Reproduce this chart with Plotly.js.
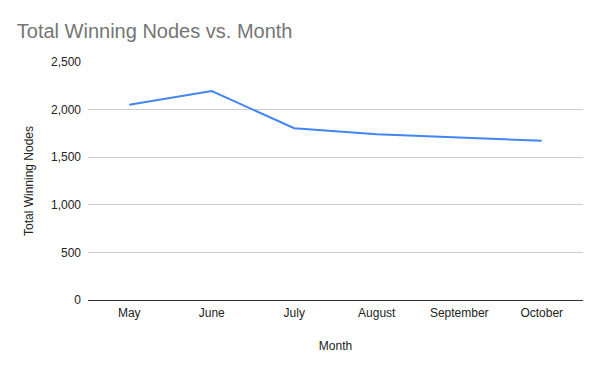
<!DOCTYPE html>
<html>
<head>
<meta charset="utf-8">
<script src="https://cdn.plot.ly/plotly-3.0.1.min.js"></script>
<style>html,body{margin:0;padding:0;background:#fff;}#chart{width:600px;height:371px;}</style>
</head>
<body>
<div id="chart"></div>
<script>
const months = ["May", "June", "July", "August", "September", "October"];
const totalWinningNodes = [2052, 2194, 1805, 1740, 1706, 1672];
const yTicks = [0, 500, 1000, 1500, 2000, 2500];
const yTickLabels = ["0", "500", "1,000", "1,500", "2,000", "2,500"];

const FONT = "'Liberation Sans', Arial, sans-serif";

const trace = {
  x: months,
  y: totalWinningNodes,
  type: "scatter",
  mode: "lines",
  line: {color: "#4285F4", width: 2},
  hoverinfo: "none"
};

const layout = {
  width: 600,
  height: 371,
  margin: {l: 88, r: 17, t: 62, b: 71},
  paper_bgcolor: "#fff",
  plot_bgcolor: "#fff",
  font: {family: FONT, size: 12, color: "#222"},
  title: {
    text: "Total Winning Nodes vs. Month",
    font: {family: FONT, size: 20, color: "#757575"},
    x: 0.028, xanchor: "left", xref: "container",
    y: 0.917, yanchor: "middle", yref: "container"
  },
  showlegend: false,
  xaxis: {
    type: "category",
    range: [-0.5, 5.5],
    showgrid: false,
    showline: false,
    zeroline: false,
    ticks: "outside",
    ticklen: 2,
    tickcolor: "rgba(0,0,0,0)",
    tickfont: {family: FONT, size: 12, color: "#222"},
    title: {text: "Month", font: {family: FONT, size: 12, color: "#222"}, standoff: 22}
  },
  yaxis: {
    range: [0, 2500],
    tickvals: yTicks,
    ticktext: yTickLabels,
    showgrid: true,
    gridcolor: "#cccccc",
    gridwidth: 1,
    zeroline: true,
    zerolinecolor: "#333333",
    zerolinewidth: 1,
    showline: false,
    ticks: "",
    ticklabelstandoff: 6,
    tickfont: {family: FONT, size: 12, color: "#222"},
    title: {text: "Total Winning Nodes", font: {family: FONT, size: 12, color: "#222"}, standoff: 14}
  }
};

Plotly.newPlot("chart", [trace], layout, {displayModeBar: false, staticPlot: true});
</script>
</body>
</html>
